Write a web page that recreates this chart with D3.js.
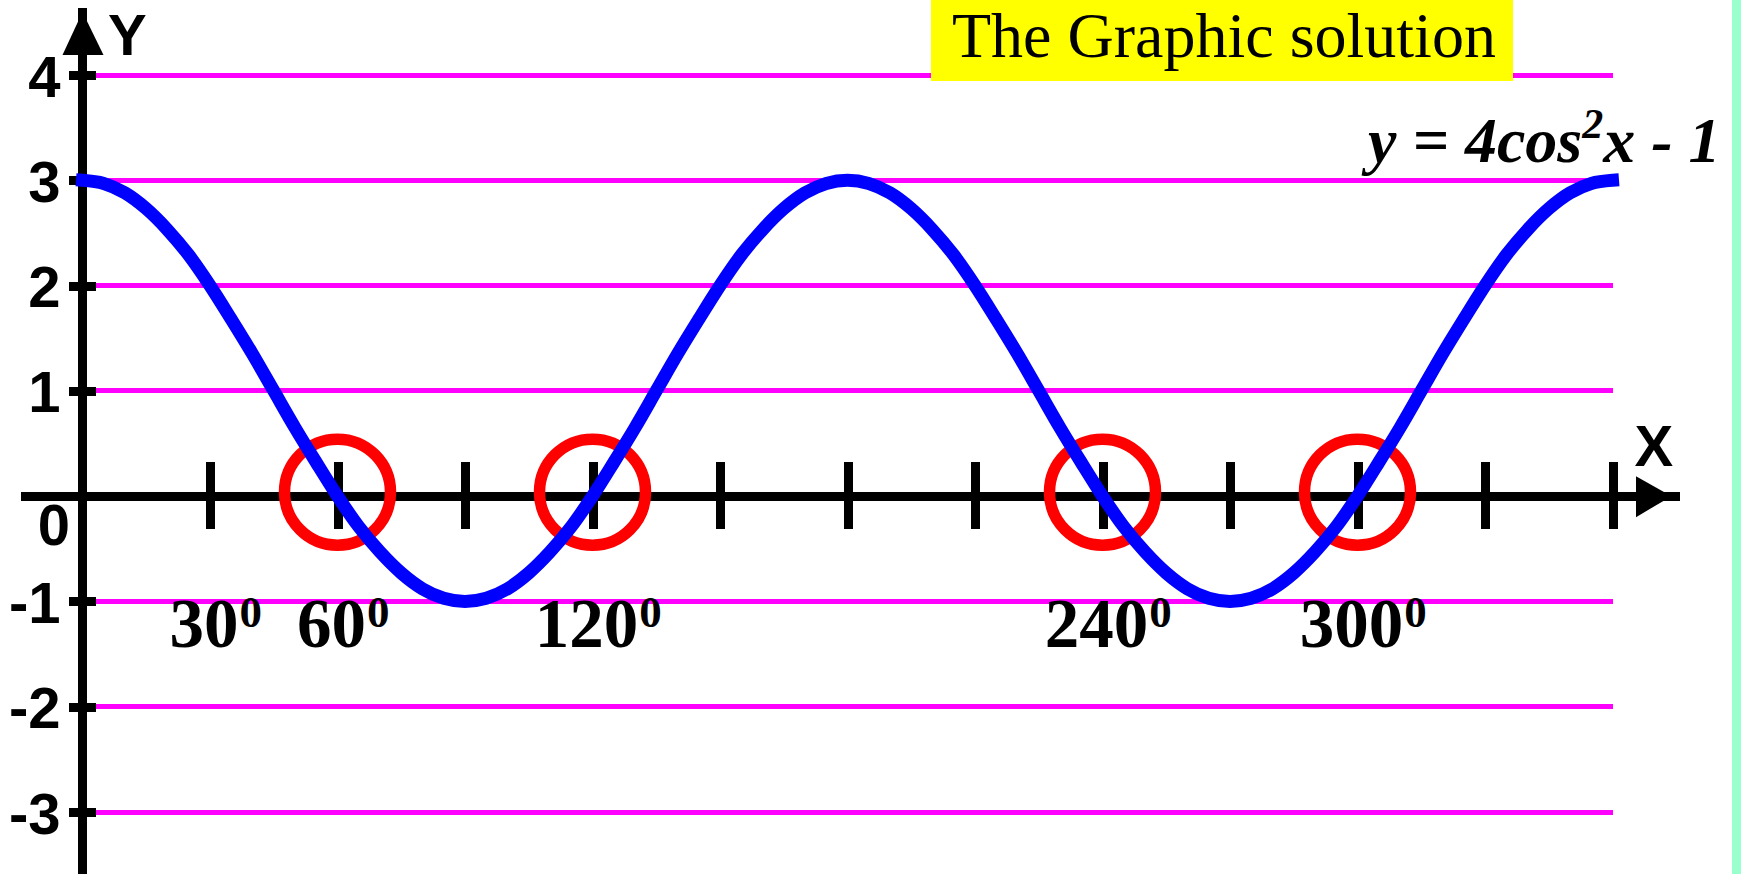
<!DOCTYPE html>
<html>
<head>
<meta charset="utf-8">
<script src="https://cdn.jsdelivr.net/npm/d3@7/dist/d3.min.js"></script>
<style>
  html, body { margin: 0; padding: 0; background: #ffffff; overflow: hidden; }
  svg { display: block; }
</style>
</head>
<body>
<svg id="chart" width="1741" height="874"></svg>
<script>
// Angle samples (degrees) and the plotted values of y = 4cos²x - 1
const angles = [
  0, 5, 10, 15, 20, 25, 30, 35, 40, 45, 50, 55, 60, 65, 70, 75, 80, 85, 90,
  95, 100, 105, 110, 115, 120, 125, 130, 135, 140, 145, 150, 155, 160, 165, 170, 175, 180,
  185, 190, 195, 200, 205, 210, 215, 220, 225, 230, 235, 240, 245, 250, 255, 260, 265, 270,
  275, 280, 285, 290, 295, 300, 305, 310, 315, 320, 325, 330, 335, 340, 345, 350, 355, 360
];
const curveValues = [
  3.00, 2.97, 2.88, 2.73, 2.53, 2.29, 2.00, 1.68, 1.35, 1.00, 0.65, 0.32, 0.00, -0.29, -0.53, -0.73, -0.88, -0.97, -1.00,
  -0.97, -0.88, -0.73, -0.53, -0.29, 0.00, 0.32, 0.65, 1.00, 1.35, 1.68, 2.00, 2.29, 2.53, 2.73, 2.88, 2.97, 3.00,
  2.97, 2.88, 2.73, 2.53, 2.29, 2.00, 1.68, 1.35, 1.00, 0.65, 0.32, 0.00, -0.29, -0.53, -0.73, -0.88, -0.97, -1.00,
  -0.97, -0.88, -0.73, -0.53, -0.29, 0.00, 0.32, 0.65, 1.00, 1.35, 1.68, 2.00, 2.29, 2.53, 2.73, 2.88, 2.97, 3.00
];

// Horizontal guide lines and y-axis tick labels
const gridValues = [4, 3, 2, 1, -1, -2, -3];
const yTickLabels = ["4", "3", "2", "1", "-1", "-2", "-3"];

// x-axis ticks every 30 degrees
const xTickDegrees = [30, 60, 90, 120, 150, 180, 210, 240, 270, 300, 330, 360];

// Labelled angles and the solutions of 4cos²x - 1 = 0
const degreeLabelValues = [30, 60, 120, 240, 300];
const degreeLabelTexts = ["30", "60", "120", "240", "300"];
const solutionDegrees = [60, 120, 240, 300];

const titleText = "The Graphic solution";

const svg = d3.select("#chart");
const W = 1741, H = 874;

const x = d3.scaleLinear().domain([0, 360]).range([82.5, 1612.5]);
const y = d3.scaleLinear().domain([-3, 4]).range([812, 75]);

const axisFont = "'Liberation Sans', Arial, sans-serif";
const serifFont = "'Liberation Serif', 'Times New Roman', serif";

// background and right-hand stripe
svg.append("rect").attr("width", W).attr("height", H).attr("fill", "#ffffff");
svg.append("rect").attr("x", 1732).attr("y", 0).attr("width", W - 1732).attr("height", H).attr("fill", "#99ffcc");

// magenta guide lines
svg.append("g").selectAll("line").data(gridValues).join("line")
  .attr("x1", x(0) + 4).attr("x2", x(360))
  .attr("y1", d => y(d)).attr("y2", d => y(d))
  .attr("stroke", "#ff00ff").attr("stroke-width", 5)
  .attr("shape-rendering", "crispEdges");

// title box
svg.append("rect").attr("x", 931).attr("y", 0).attr("width", 582).attr("height", 81).attr("fill", "#ffff00");
svg.append("text").attr("x", 952).attr("y", 57)
  .attr("font-family", serifFont).attr("font-size", 64).attr("fill", "#000")
  .text(titleText);

// x axis line and arrow
const y0 = y(0);
svg.append("line").attr("x1", 21).attr("x2", x(360) + 67.5).attr("y1", y0).attr("y2", y0)
  .attr("stroke", "#000").attr("stroke-width", 9).attr("shape-rendering", "crispEdges");
svg.append("polygon")
  .attr("points", `${x(360) + 23.5},${y0 - 20} ${x(360) + 23.5},${y0 + 21} ${x(360) + 59},${y0}`)
  .attr("fill", "#000");

// x axis ticks (no labels)
const xAxis = d3.axisBottom(x).tickValues(xTickDegrees).tickFormat("").tickSizeOuter(0);
const gx = svg.append("g").attr("transform", `translate(0,${y0})`).call(xAxis);
gx.select(".domain").remove();
gx.selectAll(".tick line")
  .attr("y1", -34).attr("y2", 33)
  .attr("stroke", "#000").attr("stroke-width", 9).attr("shape-rendering", "crispEdges");

// y axis line and arrow
const xa = x(0);
svg.append("line").attr("x1", xa).attr("x2", xa).attr("y1", 8).attr("y2", H)
  .attr("stroke", "#000").attr("stroke-width", 9).attr("shape-rendering", "crispEdges");
svg.append("polygon")
  .attr("points", `${xa},12 ${xa + 21},55 ${xa - 20},55`)
  .attr("fill", "#000");

// y axis ticks with labels
const yAxis = d3.axisLeft(y).tickValues(gridValues)
  .tickFormat((d, i) => yTickLabels[i]).tickSizeOuter(0);
const gy = svg.append("g").attr("transform", `translate(${xa},0)`).call(yAxis);
gy.select(".domain").remove();
gy.selectAll(".tick line")
  .attr("x1", -13.5).attr("x2", 13.5)
  .attr("stroke", "#000").attr("stroke-width", 9).attr("shape-rendering", "crispEdges");
gy.selectAll(".tick text")
  .attr("x", -22).attr("dy", null).attr("y", 21)
  .attr("font-family", axisFont).attr("font-weight", "bold").attr("font-size", 58)
  .attr("fill", "#000").attr("text-anchor", "end");

// axis names and origin
svg.append("text").attr("x", 108).attr("y", 55)
  .attr("font-family", axisFont).attr("font-weight", "bold").attr("font-size", 58).attr("fill", "#000")
  .text("Y");
svg.append("text").attr("x", x(360) + 22).attr("y", y0 - 30)
  .attr("font-family", axisFont).attr("font-weight", "bold").attr("font-size", 58).attr("fill", "#000")
  .text("X");
svg.append("text").attr("x", 70).attr("y", 545).attr("text-anchor", "end")
  .attr("font-family", axisFont).attr("font-weight", "bold").attr("font-size", 58).attr("fill", "#000")
  .text("0");

// red circles around the solutions
svg.append("g").selectAll("circle").data(solutionDegrees).join("circle")
  .attr("cx", d => x(d)).attr("cy", y0 - 4).attr("r", 53)
  .attr("fill", "none").attr("stroke", "#ff0000").attr("stroke-width", 11.5);

// the curve
const points = angles.map((a, i) => [a, curveValues[i]]);
const line = d3.line().x(d => x(d[0])).y(d => y(d[1])).curve(d3.curveMonotoneX);
svg.append("path").datum(points)
  .attr("d", line)
  .attr("fill", "none").attr("stroke", "#0000ff").attr("stroke-width", 13)
  .attr("stroke-linecap", "square").attr("stroke-linejoin", "miter");

// degree labels
const labels = svg.append("g");
degreeLabelValues.forEach((v, i) => {
  const cx = x(v) - 6;
  const main = labels.append("text").attr("x", cx).attr("y", 647).attr("text-anchor", "middle")
    .attr("font-family", serifFont).attr("font-weight", "bold").attr("font-size", 69).attr("fill", "#000")
    .text(degreeLabelTexts[i]);
  const w = main.node().getComputedTextLength();
  labels.append("text").attr("x", cx + w / 2 + 1).attr("y", 627)
    .attr("font-family", serifFont).attr("font-weight", "bold").attr("font-size", 45).attr("fill", "#000")
    .text("0");
});

// equation label
const eq = svg.append("text").attr("x", 1368).attr("y", 162)
  .attr("font-family", serifFont).attr("font-weight", "bold").attr("font-style", "italic")
  .attr("font-size", 64).attr("fill", "#000");
eq.append("tspan").text("y = 4cos");
eq.append("tspan").attr("font-size", 42).attr("dy", -24).text("2");
eq.append("tspan").attr("dy", 24).text("x - 1");
</script>
</body>
</html>
